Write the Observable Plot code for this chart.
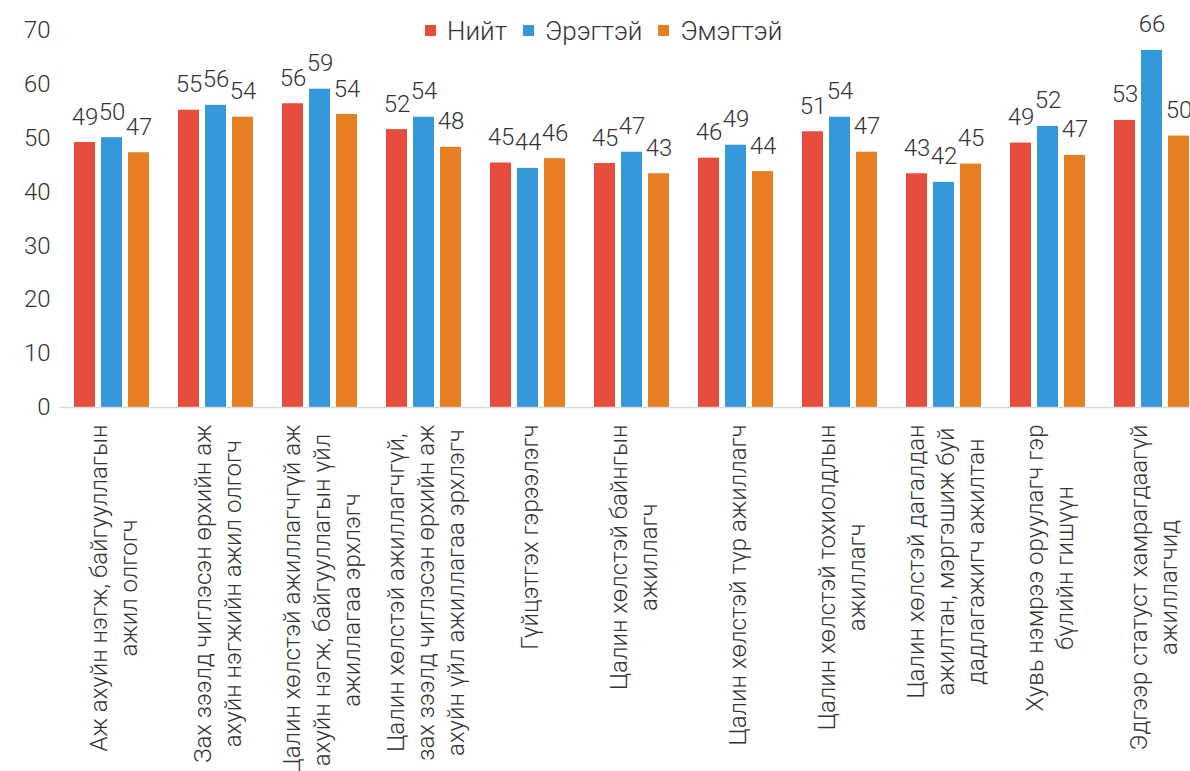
<!DOCTYPE html>
<html><head><meta charset="utf-8">
<script src="https://cdn.jsdelivr.net/npm/d3@7"></script>
<script src="https://cdn.jsdelivr.net/npm/@observablehq/plot@0.6"></script>
<style>
html,body{margin:0;padding:0;background:#fff;overflow:hidden}
#wrap{position:relative;width:1190px;height:771px;font-family:Roboto,sans-serif}
#legend{position:absolute;left:425px;top:14px}
.lg-swatches{font-family:Roboto,sans-serif !important;font-size:26px !important;font-weight:300 !important;color:#333 !important;margin:0 !important}
.lg-swatches-wrap .lg-swatch{margin-right:16px !important}
.lg-swatch > svg{margin-right:11px !important}
</style></head><body><div id="wrap"><div id="chart"></div><div id="legend"></div></div>
<script>
const categories = [
  "Аж ахуйн нэгж, байгууллагын\nажил олгогч",
  "Зах зээлд чиглэсэн өрхийн аж\nахуйн нэгжийн ажил олгогч",
  "Цалин хөлстэй ажиллагчгүй аж\nахуйн нэгж, байгууллагын үйл\nажиллагаа эрхлэгч",
  "Цалин хөлстэй ажиллагчгүй,\nзах зээлд чиглэсэн өрхийн аж\nахуйн үйл ажиллагаа эрхлэгч",
  "Гүйцэтгэх гэрээлэгч",
  "Цалин хөлстэй байнгын\nажиллагч",
  "Цалин хөлстэй түр ажиллагч",
  "Цалин хөлстэй тохиолдлын\nажиллагч",
  "Цалин хөлстэй дагалдан\nажилтан, мэргэшиж буй\nдадлагажигч ажилтан",
  "Хувь нэмрээ оруулагч гэр\nбүлийн гишүүн",
  "Эдгээр статуст хамрагдаагүй\nажиллагчид"
];
const series = ["Нийт", "Эрэгтэй", "Эмэгтэй"];
const colors = ["#E74C3C", "#3498DB", "#E67E22"];
const total  = [49.2, 55.2, 56.4, 51.6, 45.4, 45.3, 46.3, 51.2, 43.4, 49.1, 53.3];
const male   = [50.1, 56.1, 59.1, 53.9, 44.4, 47.4, 48.7, 53.9, 41.8, 52.2, 66.3];
const female = [47.3, 53.9, 54.4, 48.3, 46.2, 43.4, 43.8, 47.4, 45.2, 46.8, 50.4];
const yTicks = [0, 10, 20, 30, 40, 50, 60, 70];

const seriesValues = [total, male, female];
const data = categories.flatMap((c, i) => series.map((s, j) => ({cat: c, series: s, value: seriesValues[j][i]})));

const ctx = document.createElement("canvas").getContext("2d");
ctx.font = "300 24px Roboto";
const labelMarks = categories.map(c => {
  const L = d3.max(c.split("\n"), s => ctx.measureText(s).width);
  return Plot.text([c], {fx: d => d, text: d => d, frameAnchor: "bottom", rotate: -90,
    textAnchor: "middle", lineAnchor: "middle", lineHeight: 1.25, dy: 17 + L / 2,
    fontSize: 24, fontWeight: 300, fill: "#333"});
});

const chart = Plot.plot({
  width: 1190, height: 771,
  marginTop: 30, marginBottom: 364, marginLeft: 60, marginRight: 0,
  style: {fontFamily: "Roboto", fontSize: "24px", fontWeight: 300, color: "#333", background: "#fff", overflow: "hidden"},
  fx: {domain: categories, range: [59.5, 1203.5], paddingInner: 0.264, paddingOuter: 0.132, axis: null, label: null},
  x: {domain: series, paddingInner: 0.218, paddingOuter: 0, axis: null},
  y: {domain: [0, 70], ticks: yTicks, tickSize: 0, tickPadding: 23, label: null},
  color: {domain: series, range: colors},
  marks: [
    Plot.barY(data, {fx: "cat", x: "series", y: "value", fill: "series"}),
    Plot.ruleY([0], {stroke: "#d9d9d9", strokeWidth: 1.5, insetLeft: -14, insetRight: -14}),
    Plot.text(data, {fx: "cat", x: "series", y: "value", text: d => String(Math.round(d.value)),
      lineAnchor: "bottom", dy: -18, fontSize: 24, fontWeight: 300, fill: "#333"}),
    ...labelMarks
  ]
});
document.getElementById("chart").appendChild(chart);

const legend = Plot.legend({color: {type: "ordinal", domain: series, range: colors}, swatchSize: 11, className: "lg"});
document.getElementById("legend").appendChild(legend);
</script></body></html>
